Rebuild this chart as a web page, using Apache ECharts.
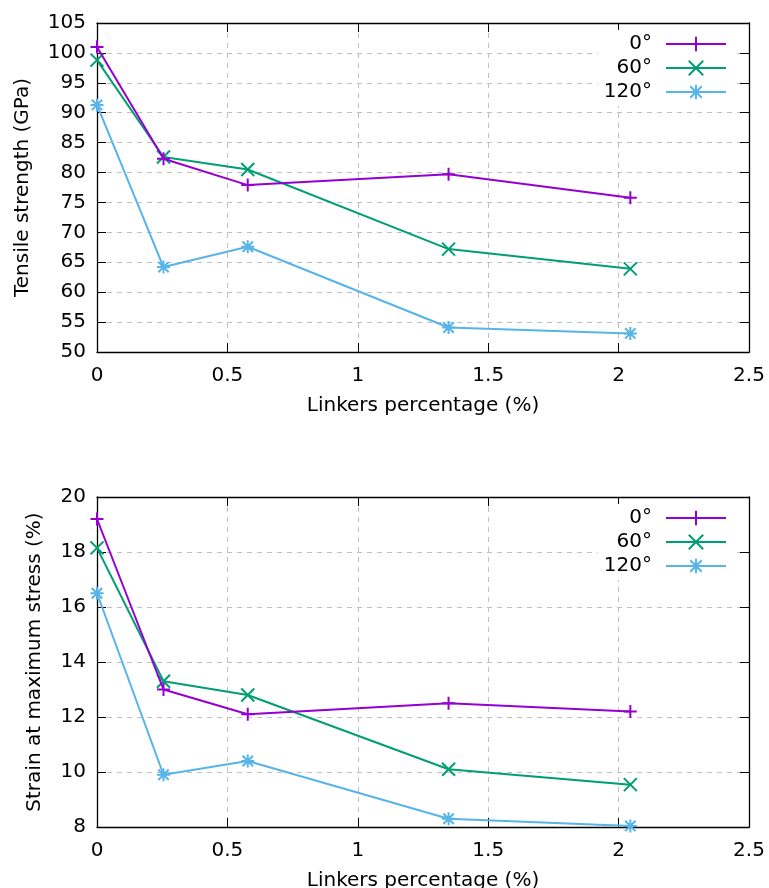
<!DOCTYPE html>
<html>
<head>
<meta charset="utf-8">
<script src="https://cdn.jsdelivr.net/npm/echarts@6/dist/echarts.min.js"></script>
<style>
html,body{margin:0;padding:0;background:#fff;}
#chart{width:769px;height:888px;}
</style>
</head>
<body>
<div id="chart"></div>
<script>
// ---- Data ----
const linkers = [0, 0.255, 0.578, 1.348, 2.045];
const seriesNames = ['0°', '60°', '120°'];
const tensile0 = [101.0, 82.3, 77.9, 79.7, 75.8];
const tensile60 = [98.8, 82.6, 80.5, 67.2, 63.9];
const tensile120 = [91.3, 64.2, 67.6, 54.1, 53.1];
const strain0 = [19.2, 13.0, 12.1, 12.5, 12.2];
const strain60 = [18.15, 13.3, 12.8, 10.1, 9.54];
const strain120 = [16.5, 9.9, 10.4, 8.3, 8.04];

const colors = ['#9400d3', '#009e73', '#56b4e9'];
const symbols = [
  'path://M0,5 L10,5 M5,0 L5,10',
  'path://M0,0 L10,10 M10,0 L0,10',
  'path://M0,5 L10,5 M5,0 L5,10 M1,1 L9,9 M9,1 L1,9'
];
const FONT = 'DejaVu Sans';
const FS = 20;

function pts(vals) { return linkers.map((x, i) => [x, vals[i]]); }

function mainX(gridIndex) {
  return {
    type: 'value', gridIndex, min: 0, max: 2.5, interval: 0.5, position: 'bottom',
    name: 'Linkers percentage (%)', nameLocation: 'middle', nameGap: 44,
    nameTextStyle: { fontFamily: FONT, fontSize: FS, color: '#000' },
    axisLine: { show: true, onZero: false, lineStyle: { color: '#000', width: 1.3 } },
    axisTick: { show: true, inside: true, length: 9, lineStyle: { color: '#000', width: 1 } },
    axisLabel: { fontFamily: FONT, fontSize: FS, color: '#000', margin: 14 },
    splitLine: { show: true, lineStyle: { color: '#c0c0c0', type: [5, 5], width: 1 } }
  };
}
function topX(gridIndex) {
  return {
    type: 'value', gridIndex, min: 0, max: 2.5, interval: 0.5, position: 'top',
    axisLine: { show: true, onZero: false, lineStyle: { color: '#000', width: 1.3 } },
    axisTick: { show: true, inside: true, length: 9, lineStyle: { color: '#000', width: 1 } },
    axisLabel: { show: false }, splitLine: { show: false }
  };
}
function mainY(gridIndex, min, max, interval, name, gap) {
  return {
    type: 'value', gridIndex, min, max, interval, position: 'left',
    name, nameLocation: 'middle', nameGap: gap,
    nameTextStyle: { fontFamily: FONT, fontSize: FS, color: '#000' },
    axisLine: { show: true, onZero: false, lineStyle: { color: '#000', width: 1.3 } },
    axisTick: { show: true, inside: true, length: 9, lineStyle: { color: '#000', width: 1 } },
    axisLabel: { fontFamily: FONT, fontSize: FS, color: '#000', margin: 11 },
    splitLine: { show: true, lineStyle: { color: '#c0c0c0', type: [5, 5], width: 1 } }
  };
}
function rightY(gridIndex, min, max, interval) {
  return {
    type: 'value', gridIndex, min, max, interval, position: 'right',
    axisLine: { show: true, onZero: false, lineStyle: { color: '#000', width: 1.3 } },
    axisTick: { show: true, inside: true, length: 9, lineStyle: { color: '#000', width: 1 } },
    axisLabel: { show: false }, splitLine: { show: false }
  };
}
function mkSeries(idx, vals, xi, yi) {
  return {
    type: 'line', name: seriesNames[idx], xAxisIndex: xi, yAxisIndex: yi,
    data: pts(vals), symbol: symbols[idx], symbolSize: 13,
    lineStyle: { color: colors[idx], width: 2 },
    itemStyle: { color: colors[idx], borderColor: colors[idx], borderWidth: 2 },
    clip: false, animation: false, z: 5 + (3 - idx)
  };
}
function legend(top) {
  return {
    data: seriesNames, orient: 'vertical', align: 'right', right: 36, top,
    itemWidth: 60, itemHeight: 18, itemGap: 4, padding: [4, 6, 4, 6],
    backgroundColor: '#fff',
    textStyle: { fontFamily: FONT, fontSize: FS, color: '#000', padding: [0, 9, 0, 0] },
    selectedMode: false, z: 3
  };
}

const chart = echarts.init(document.getElementById('chart'), null, { renderer: 'canvas' });
chart.setOption({
  animation: false,
  backgroundColor: '#fff',
  grid: [
    { left: 97, right: 20, top: 23, height: 329, containLabel: false, outerBoundsMode: 'none' },
    { left: 97, right: 20, top: 497, height: 330, containLabel: false, outerBoundsMode: 'none' }
  ],
  xAxis: [mainX(0), topX(0), mainX(1), topX(1)],
  yAxis: [
    mainY(0, 50, 105, 5, 'Tensile strength (GPa)', 64),
    rightY(0, 50, 105, 5),
    mainY(1, 8, 20, 2, 'Strain at maximum stress (%)', 52),
    rightY(1, 8, 20, 2)
  ],
  legend: [legend(30), legend(504)],
  series: [
    mkSeries(0, tensile0, 0, 0), mkSeries(1, tensile60, 0, 0), mkSeries(2, tensile120, 0, 0),
    mkSeries(0, strain0, 2, 2), mkSeries(1, strain60, 2, 2), mkSeries(2, strain120, 2, 2)
  ]
});
</script>
</body>
</html>
